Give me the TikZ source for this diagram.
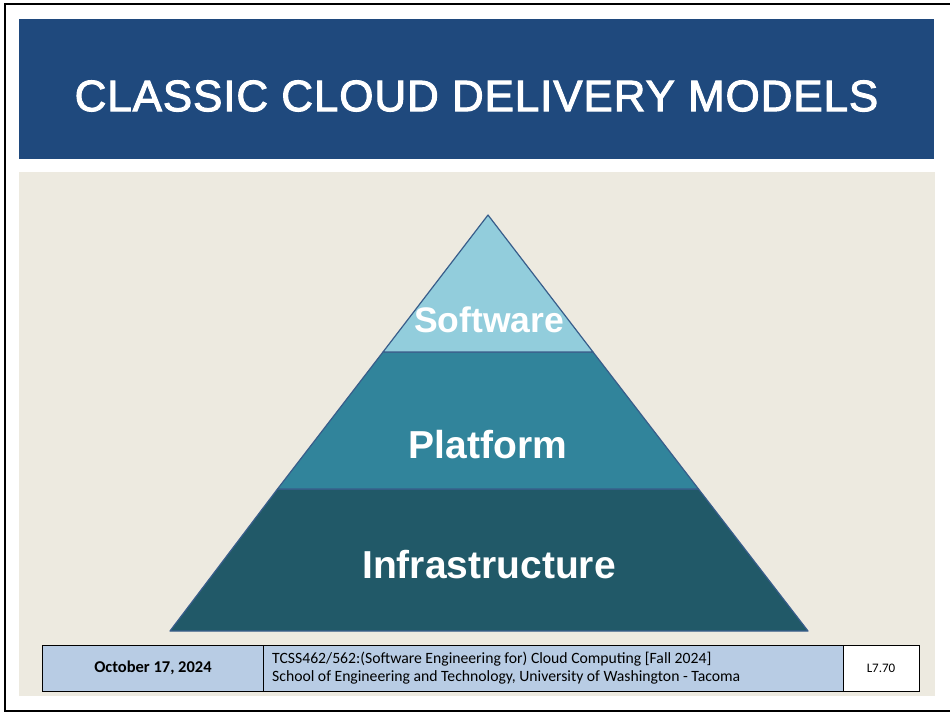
\documentclass[tikz,border=0pt]{standalone}
\usepackage{fontspec}
\setmainfont{Liberation Sans}
\newfontfamily\titlefont[LetterSpace=2, RawFeature={embolden=2.2}]{Liberation Sans}
\newfontfamily\footfont{Carlito}
\definecolor{titleblue}{RGB}{31,73,125}
\definecolor{panel}{RGB}{237,234,224}
\definecolor{swfill}{RGB}{146,205,220}
\definecolor{pffill}{RGB}{49,132,155}
\definecolor{iffill}{RGB}{33,89,104}
\definecolor{edge}{RGB}{56,93,138}
\definecolor{footblue}{RGB}{184,204,228}
\tikzset{
  layer/.style={draw=edge, line width=1.2pt, line join=round},
  layerlabel/.style={text=white, font=\bfseries, inner sep=0pt},
  footcell/.style={draw=black, line width=0.9pt},
}
\begin{document}
\begin{tikzpicture}[x=1pt, y=-1pt]
\useasboundingbox (0,0) rectangle (950,714);
\fill[white] (0,0) rectangle (950,714);
% page frame (right side lies outside the page)
\draw[line width=2pt] (955,4) -- (5,4) -- (5,710.5) -- (955,710.5);
% title band
\fill[titleblue] (19,19) rectangle (934,159);
\node[text=white, font=\titlefont\fontsize{44}{44}\selectfont] (title) at (476.5,96) {CLASSIC CLOUD DELIVERY MODELS};
% content panel
\fill[panel] (19,172) rectangle (935,696);
% pyramid layers
\coordinate (apex) at (488,215);
\coordinate (sl) at (383,352);
\coordinate (sr) at (593,352);
\coordinate (pl) at (277.5,489);
\coordinate (pr) at (698.5,489);
\coordinate (bl) at (170,631);
\coordinate (br) at (808,631);
\filldraw[layer, fill=iffill] (pl) -- (pr) -- (br) -- (bl) -- cycle;
\filldraw[layer, fill=pffill] (sl) -- (sr) -- (pr) -- (pl) -- cycle;
\filldraw[layer, fill=swfill] (apex) -- (sr) -- (sl) -- cycle;
\node[layerlabel, font=\bfseries\fontsize{35.5}{35.5}\selectfont] (sw) at (489,320) {Software};
\node[layerlabel, font=\bfseries\fontsize{39}{39}\selectfont] (pf) at (488,445) {Platform};
\node[layerlabel, font=\bfseries\fontsize{39}{39}\selectfont] (inf) at (489,565) {Infrastructure};
% footer
\filldraw[footcell, fill=footblue] (42,645) rectangle (263,691);
\filldraw[footcell, fill=footblue] (263,645) rectangle (843,691);
\filldraw[footcell, fill=white] (843,645) rectangle (919,691);
\node[font=\footfont\bfseries\fontsize{16.5}{16.5}\selectfont] (date) at (153,668) {October 17, 2024};
\node[font=\footfont\fontsize{15.7}{18}\selectfont, anchor=west, align=left, inner sep=0pt] (course) at (272,668)
  {TCSS462/562:(Software Engineering for) Cloud Computing [Fall 2024]\\School of Engineering and Technology, University of Washington - Tacoma};
\node[font=\footfont\fontsize{13}{13}\selectfont] (slide) at (881,668) {L7.70};
\end{tikzpicture}
\end{document}
